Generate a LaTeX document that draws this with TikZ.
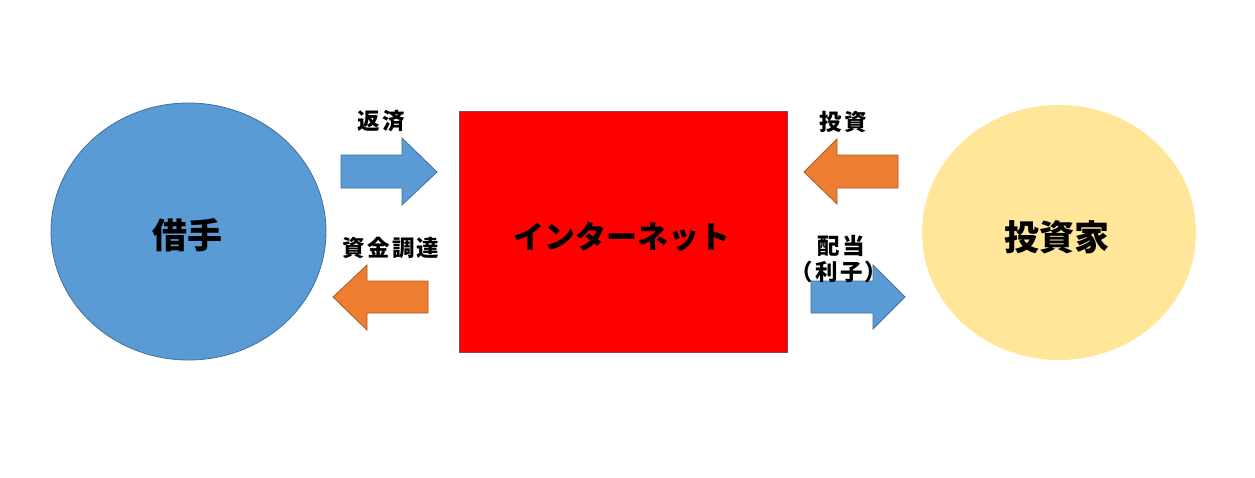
\documentclass[tikz,border=0pt]{standalone}
\usepackage{fontspec}
\newfontfamily\jp{Noto Sans CJK JP}
\newfontfamily\jpw{Noto Sans CJK JP}[LetterSpace=10]
\usetikzlibrary{shapes.geometric}
\definecolor{cblue}{HTML}{5B9BD5}
\definecolor{cblueline}{HTML}{41719C}
\definecolor{corange}{HTML}{ED7D31}
\definecolor{corangeline}{HTML}{AE5A21}
\definecolor{cyellow}{HTML}{FFE699}
\definecolor{cred}{HTML}{FF0000}
\definecolor{credline}{HTML}{7A4A55}
\tikzset{
  biglabel/.style={font=\jp\bfseries\fontsize{35}{40}\selectfont, inner sep=0pt},
  midlabel/.style={font=\jp\bfseries\fontsize{31}{36}\selectfont, inner sep=0pt},
  smalllabel/.style={font=\jpw\bfseries\fontsize{22.5}{26}\selectfont, inner sep=0pt},
  bluearrow/.style={fill=cblue, draw=cblueline, line width=0.8pt},
  orangearrow/.style={fill=corange, draw=corangeline, line width=0.8pt},
}
\begin{document}
\begin{tikzpicture}[x=1pt,y=-1pt]
\useasboundingbox (0,0) rectangle (1255,477);
\fill[white] (0,0) rectangle (1255,477);
% shapes
\node[ellipse, fill=cblue, draw=cblueline, line width=0.8pt, minimum width=275pt, minimum height=257pt, inner sep=0pt] (borrower) at (188.5,231.5) {};
\node[ellipse, fill=cyellow, draw=none, minimum width=274pt, minimum height=255pt, inner sep=0pt] (investor) at (1059,232.5) {};
\node[rectangle, fill=cred, draw=credline, line width=0.8pt, minimum width=328pt, minimum height=241pt, inner sep=0pt] (net) at (623,231.5) {};
% texts in shapes
\node[biglabel] (tb) at (187,235) {借手};
\node[midlabel] (tn) at (622,237) {インターネット};
\node[biglabel] (ti) at (1057,237) {投資家};
% arrows
\draw[bluearrow] (341,155) -- (402,155) -- (402,138) -- (437,172) -- (402,205) -- (402,188) -- (341,188) -- cycle;
\draw[orangearrow] (428,281) -- (367,281) -- (367,265) -- (333,297) -- (367,330) -- (367,313) -- (428,313) -- cycle;
\draw[orangearrow] (898,155) -- (837,155) -- (837,139) -- (804,172) -- (837,204) -- (837,188) -- (898,188) -- cycle;
\draw[bluearrow] (811,281) -- (873,281) -- (873,265) -- (905,297) -- (873,329) -- (873,313) -- (811,313) -- cycle;
% labels
\node[smalllabel] (l1) at (381,121) {返済};
\node[smalllabel] (l2) at (391,248) {資金調達};
\node[smalllabel] (l3) at (843,122) {投資};
\node[smalllabel] (l4) at (841,246) {配当};
\node[smalllabel] (l5) at (839,272) {（利子）};
\end{tikzpicture}
\end{document}
